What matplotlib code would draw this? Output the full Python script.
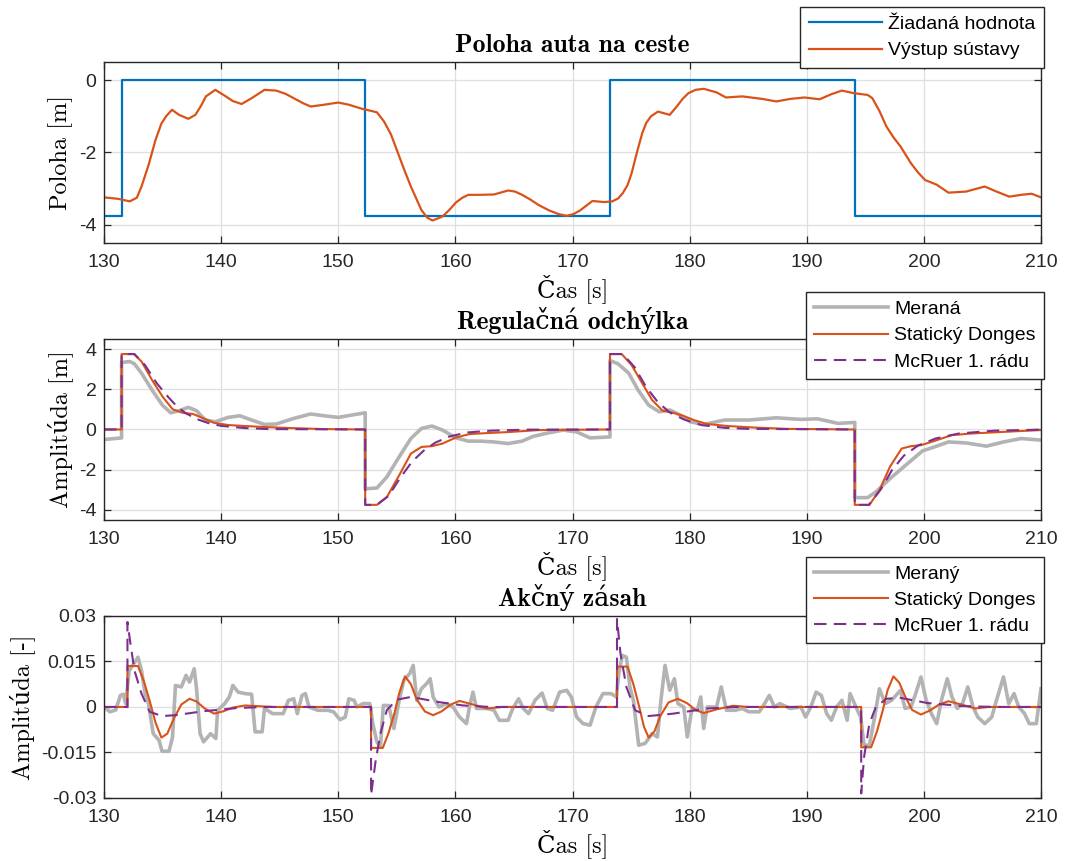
import matplotlib
matplotlib.use("Agg")
import matplotlib.pyplot as plt

plt.rcParams["axes.unicode_minus"] = False
plt.rcParams["font.family"] = ["Liberation Sans", "DejaVu Sans"]

# --- data ------------------------------------------------------------------
# panel 1: car position
ref_t = [130, 131.5, 152.3, 173.2, 194.1, 210]
ref_v = [-3.75, 0, -3.75, 0, -3.75, -3.75]

pos_t = [130, 131.2, 132.2, 132.8, 133.2, 133.8, 134.4, 134.9, 135.3, 135.8, 136.4, 137.2, 137.8,
         138.3, 138.7, 139.5, 140.4, 141.0, 141.75, 142.6, 143.7, 144.7, 145.5, 146.2, 147.0,
         147.65, 148.8, 150.0, 150.9, 152.1, 152.8, 153.3, 153.9, 154.5, 155.0, 155.6, 156.2,
         157.1, 157.6, 158.05, 158.9, 159.5, 160.05, 160.6, 161.1, 162.1, 163.3, 164.5, 165.1,
         165.7, 166.4, 167.1, 168.0, 168.8, 169.5, 170.1, 170.65, 171.7, 172.7, 173.4, 173.9,
         174.3, 174.7, 175.05, 175.5, 175.95, 176.3, 176.7, 177.3, 178.3, 178.9, 179.4, 179.9,
         180.5, 181.2, 182.3, 183.1, 184.5, 186.2, 187.4, 188.6, 189.8, 191.1, 192.1, 193.0,
         194.0, 195.2, 195.6, 196.2, 196.8, 197.4, 198.0, 198.9, 199.5, 200.1, 201.1, 202.1,
         203.6, 205.2, 206.2, 207.3, 208.3, 209.2, 210]
pos_v = [-3.24, -3.28, -3.35, -3.25, -2.94, -2.35, -1.65, -1.2, -1.0, -0.82, -0.96, -1.07, -0.96,
         -0.7, -0.45, -0.27, -0.45, -0.58, -0.66, -0.5, -0.27, -0.29, -0.38, -0.5, -0.64,
         -0.73, -0.68, -0.62, -0.68, -0.8, -0.85, -0.89, -1.14, -1.5, -1.93, -2.45, -2.94,
         -3.59, -3.8, -3.88, -3.77, -3.58, -3.38, -3.25, -3.17, -3.17, -3.16, -3.05, -3.08,
         -3.17, -3.3, -3.45, -3.6, -3.7, -3.75, -3.7, -3.6, -3.34, -3.37, -3.35, -3.27,
         -3.12, -2.9, -2.57, -2.0, -1.47, -1.18, -1.0, -0.87, -0.96, -0.73, -0.52, -0.36,
         -0.27, -0.24, -0.34, -0.48, -0.45, -0.52, -0.59, -0.52, -0.48, -0.53, -0.39, -0.29,
         -0.36, -0.41, -0.5, -0.85, -1.28, -1.58, -1.83, -2.3, -2.55, -2.76, -2.89, -3.11,
         -3.08, -2.94, -3.08, -3.22, -3.17, -3.14, -3.24]

# panel 2: control error
err_meas_t = [130, 131.5, 131.5, 132.2, 132.6, 133.2, 134.1, 135.0, 135.7, 136.4, 137.2, 137.9,
              138.65, 139.5, 140.6, 141.6, 142.6, 143.7, 144.7, 146.2, 147.65, 148.8, 150.0,
              151.2, 152.3, 152.3, 153.3, 154.15, 155.2, 156.2, 157.1, 158.0, 158.9, 160.05,
              161.1, 162.1, 163.3, 164.5, 165.7, 166.6, 167.7, 169.2, 170.35, 171.5, 173.2,
              173.2, 173.9, 174.8, 175.6, 176.5, 177.4, 178.3, 179.2, 180.06, 181.2, 183.0,
              185.1, 187.4, 189.5, 190.9, 192.7, 194.1, 194.1, 195.2, 195.9, 197.1, 198.6,
              199.9, 200.9, 202.1, 203.6, 205.35, 206.8, 208.3, 210]
err_meas_v = [-0.5, -0.42, 3.33, 3.38, 3.26, 2.8, 1.96, 1.2, 0.83, 0.93, 1.1, 0.93,
              0.47, 0.38, 0.6, 0.68, 0.47, 0.25, 0.27, 0.55, 0.77, 0.68, 0.6,
              0.72, 0.83, -2.95, -2.91, -2.36, -1.36, -0.45, 0.05, 0.17, -0.03, -0.42,
              -0.58, -0.58, -0.62, -0.7, -0.58, -0.35, -0.2, -0.03, -0.12, -0.42, -0.37,
              3.43, 3.26, 2.8, 1.96, 1.21, 0.88, 0.97, 0.72, 0.38, 0.25, 0.47,
              0.47, 0.58, 0.5, 0.53, 0.3, 0.35, -3.39, -3.39, -3.11, -2.45, -1.7,
              -1.06, -0.87, -0.62, -0.67, -0.83, -0.62, -0.45, -0.53]

err_don_t = [130, 131.5, 131.5, 132.55, 133.2, 134.1, 135.0, 135.85, 136.7, 137.6, 138.5, 139.4,
             140.6, 142.05, 143.8, 145.9, 148.8, 152.3, 152.3, 153.3, 154.15, 155.2, 156.2,
             157.1, 158.0, 158.9, 160.05, 161.2, 162.7, 164.5, 167.1, 173.2, 173.2, 174.2,
             175.05, 175.95, 176.8, 177.7, 178.6, 179.5, 180.35, 181.5, 183.3, 185.35, 188.3,
             194.1, 194.1, 195.35, 196.2, 197.1, 198.1, 198.9, 199.75, 200.9, 202.4, 204.1,
             206.8, 210]
err_don_v = [0, 0, 3.75, 3.75, 3.38, 2.46, 1.63, 1.01, 0.83, 0.77, 0.55, 0.33,
             0.22, 0.17, 0.12, 0.07, 0.02, 0, -3.75, -3.75, -3.36, -2.28, -1.2,
             -0.87, -0.83, -0.7, -0.4, -0.23, -0.18, -0.13, -0.03, 0, 3.75, 3.75,
             3.2, 2.3, 1.46, 0.93, 0.83, 0.67, 0.47, 0.27, 0.17, 0.1, 0.03,
             0, -3.75, -3.75, -3.03, -1.86, -0.95, -0.83, -0.78, -0.57, -0.28, -0.2,
             -0.12, -0.03]

err_mcr_t = [130, 131.5, 131.5, 132.6, 133.5, 134.5, 135.5, 136.3, 137.0, 138.0, 139.0, 140.0,
             142.0, 144.0, 152.3, 152.3, 153.3, 154.3, 155.3, 156.3, 157.3, 158.3, 159.5,
             161.0, 163.0, 166.0, 173.2, 173.2, 174.3, 175.3, 176.3, 177.3, 178.3, 179.5,
             181.0, 183.0, 185.0, 194.1, 194.1, 195.3, 196.3, 197.3, 198.3, 199.5, 201.0,
             203.0, 206.0, 210]
err_mcr_v = [0, 0, 3.75, 3.75, 3.2, 2.3, 1.6, 1.1, 0.8, 0.5, 0.3, 0.18,
             0.07, 0.02, 0, -3.75, -3.75, -3.3, -2.4, -1.6, -1.05, -0.65, -0.35,
             -0.15, -0.06, -0.01, 0, 3.75, 3.75, 3.1, 2.1, 1.35, 0.85, 0.5,
             0.22, 0.08, 0.03, 0, -3.75, -3.75, -3.0, -2.0, -1.3, -0.8, -0.45,
             -0.2, -0.06, -0.01]

# panel 3: control action
u_meas_t = [130, 130.5, 131.0, 131.4, 131.65, 131.85, 132.15, 132.45, 132.9, 133.2, 133.5, 133.8,
            134.2, 134.7, 134.95, 135.55, 135.85, 136.1, 136.6, 137.0, 137.3, 137.7, 137.9,
            138.2, 138.5, 139.1, 139.55, 139.7, 140.3, 140.7, 141.0, 141.45, 142.05, 142.6,
            142.9, 143.5, 143.7, 144.4, 145.3, 145.75, 146.2, 146.5, 146.9, 147.2, 147.5,
            148.25, 149.1, 149.6, 150.15, 150.6, 150.9, 151.35, 151.6, 152.1, 152.7, 152.95,
            153.3, 153.6, 153.85, 154.3, 154.75, 155.2, 155.6, 156.1, 156.4, 156.7, 157.1,
            157.55, 157.85, 158.1, 158.6, 159.2, 159.8, 160.35, 160.95, 161.2, 161.5, 161.8,
            162.7, 163.3, 163.75, 164.5, 164.9, 165.4, 165.8, 166.25, 166.8, 167.4, 167.85,
            168.3, 168.9, 169.5, 169.9, 170.35, 170.9, 171.5, 172.0, 172.6, 173.3, 173.75,
            173.95, 174.25, 174.6, 174.9, 175.2, 175.65, 176.2, 176.8, 177.25, 177.55, 177.9,
            178.3, 178.7, 179.0, 179.5, 179.8, 180.2, 180.65, 180.95, 181.2, 181.5, 182.3,
            182.7, 183.15, 183.9, 184.5, 185.05, 185.95, 186.4, 186.8, 187.25, 187.7, 188.6,
            189.5, 189.9, 190.35, 190.8, 191.25, 191.7, 192.1, 192.55, 193.0, 193.45, 193.7,
            194.2, 194.6, 194.9, 195.35, 195.8, 196.2, 196.7, 197.25, 198.0, 198.4, 198.9,
            199.3, 199.75, 200.2, 200.65, 201.1, 201.5, 202.0, 202.4, 202.85, 203.3, 203.75,
            204.2, 204.6, 205.2, 205.8, 206.2, 206.8, 207.25, 207.7, 208.1, 208.6, 209.0,
            209.6, 210]
u_meas_v = [0, -0.0016, -0.001, 0.0038, 0.0042, 0.0011, 0.012, 0.0137, 0.0164, 0.012, 0.0044, 0.001,
            -0.0088, -0.011, -0.0146, -0.0146, -0.0099, 0.0071, 0.0066, 0.0104, 0.0082, 0.0126, 0.006,
            -0.0088, -0.0115, -0.0088, -0.0104, -0.0011, 0.0011, 0.0033, 0.0071, 0.0049, 0.0044, 0.0042,
            -0.0082, -0.0082, -0.0005, -0.0022, -0.0022, 0.0022, 0.0027, -0.0022, 0.0038, 0.0044, 0,
            -0.0011, -0.0011, -0.0016, -0.0042, -0.0033, 0.0027, 0.0022, 0, 0.0011, 0.0011, -0.0055,
            -0.0115, -0.013, 0.0005, 0.0005, -0.0071, 0.0022, 0.0088, 0.011, 0.0137, 0.0022, 0.006,
            0.0077, 0.0093, 0.0033, 0, 0.0011, 0, -0.0033, -0.0055, 0, 0.0049, -0.0005,
            -0.0005, -0.0011, -0.0044, -0.0044, -0.0005, 0.0027, -0.0005, -0.0022, 0.0022, 0.0046, -0.0005,
            -0.0011, 0.0049, 0.0055, 0.0033, -0.0033, -0.0055, -0.006, 0, 0.0044, 0.0044, 0.0033,
            0.011, 0.017, 0.0164, 0.0066, 0.0022, -0.0126, -0.012, -0.0088, -0.0099, 0.0022, 0.0137,
            0.0055, 0.0093, 0.0011, 0, -0.0099, -0.0005, -0.0011, 0.0033, -0.0071, 0, 0,
            0.0066, -0.0011, -0.0011, -0.0005, -0.0016, -0.0016, 0.0011, 0.0038, 0, 0.0011, -0.0005,
            0, -0.0033, 0, 0.0049, 0.0038, -0.0022, -0.0044, 0, 0.0022, -0.0044, 0.0044,
            0, -0.0033, -0.0126, -0.0126, -0.0033, 0.006, 0.0011, 0.0022, 0.0055, -0.0005, 0,
            0.0044, 0.0099, 0.0022, -0.0022, -0.0055, 0.0022, 0.0093, 0.0033, -0.0005, 0.0011, 0.0066,
            0, -0.0033, -0.0055, -0.0033, 0.0022, 0.0099, 0.0011, 0.0044, 0, -0.0022, -0.0055,
            -0.0055, 0.006]

u_don_t = [130, 132.0, 132.0, 132.9, 133.4, 133.9, 134.4, 134.9, 135.4, 136.0, 136.6, 137.3,
           137.9, 138.6, 139.4, 140.2, 141.0, 142.05, 143.0, 144.5, 152.8, 152.8, 153.8, 154.3,
           154.8, 155.2, 155.7, 156.2, 156.7, 157.4, 158.1, 158.8, 159.6, 160.35, 161.5,
           162.7, 164.0, 173.8, 173.8, 174.7, 175.2, 175.7, 176.1, 176.5, 177.0, 177.5, 178.2,
           179.0, 179.8, 180.5, 181.2, 182.3, 183.7, 185.0, 194.65, 194.65, 195.5, 196.0,
           196.5, 196.9, 197.4, 197.9, 198.4, 199.0, 199.75, 200.5, 201.3, 202.1, 203.2,
           204.4, 205.5, 210]
u_don_v = [0, 0, 0.0135, 0.0135, 0.0085, 0.002, -0.0052, -0.0101, -0.0088, -0.0035, 0.0008, 0.0027,
           0.0018, -0.0005, -0.0022, -0.0014, -0.0002, 0.0005, 0.0003, 0, 0, -0.0135, -0.0135, -0.0085,
           -0.002, 0.0045, 0.0101, 0.0075, 0.0025, -0.0015, -0.0027, -0.0015, 0.0008, 0.002, 0.0008,
           -0.0005, 0, 0, 0.0133, 0.0133, 0.0075, 0.0, -0.0065, -0.0101, -0.008, -0.003, 0.0015,
           0.0027, 0.0012, -0.001, -0.002, -0.0008, 0.0004, 0, 0, -0.0133, -0.0133, -0.008,
           -0.001, 0.0055, 0.0101, 0.008, 0.0035, -0.001, -0.0025, -0.0012, 0.0008, 0.0019, 0.0008,
           -0.0005, 0, 0]

u_mcr_t = [130, 132.0, 132.0, 132.3, 132.6, 133.2, 133.9, 134.96, 136.1, 138.5, 141.5, 144.0,
           152.8, 152.8, 153.2, 153.6, 154.15, 155.0, 156.2, 158.6, 160.65, 163.0, 173.8, 173.8,
           174.1, 174.6, 175.35, 176.5, 178.6, 181.5, 184.0, 194.65, 194.65, 194.9, 195.35,
           195.9, 196.8, 198.0, 200.3, 203.3, 206.0, 210]
u_mcr_v = [0, 0, 0.028, 0.0197, 0.012, 0.0044, -0.0016, -0.003, -0.0027, -0.0014, -0.0003, 0,
           0, -0.029, -0.0175, -0.0088, -0.001, 0.0024, 0.0033, 0.0016, 0.0005, 0, 0, 0.029,
           0.0175, 0.0066, -0.0011, -0.003, -0.0022, -0.0005, 0, 0, -0.0285, -0.0164, -0.0055,
           0, 0.0027, 0.003, 0.0013, 0.0003, 0, 0]

xticks = [130, 140, 150, 160, 170, 180, 190, 200, 210]
u_ticks = [-0.03, -0.015, 0, 0.015, 0.03]
u_ticklabels = ["-0.03", "-0.015", "0", "0.015", "0.03"]

# --- style (MATLAB-ish) -----------------------------------------------------
BLUE, ORANGE, GRAY, PURPLE = "#0072BD", "#D95319", "#B3B3B3", "#7E2F8E"
EDGE = "#262626"
SERIF = ["cmr10", "DejaVu Serif"]
SERIF_B = ["cmb10", "DejaVu Serif"]


def style(ax, title, ylabel):
    ax.set_xlim(130, 210); ax.set_xticks(xticks)
    ax.grid(True, color="#dfdfdf", linewidth=0.9)
    ax.set_axisbelow(True)
    ax.tick_params(direction="in", top=True, right=True, length=5, labelsize=14,
                   colors=EDGE, width=0.9)
    ax.tick_params(axis="x", pad=8)
    ax.tick_params(axis="y", pad=5.5)
    for s in ax.spines.values():
        s.set_color(EDGE); s.set_linewidth(1.0)
    ax.set_title(title, family=SERIF_B, fontsize=18.5, pad=7)
    ax.set_xlabel("Čas [s]", family=SERIF, fontsize=17.5, labelpad=2)
    ax.set_ylabel(ylabel, family=SERIF, fontsize=17.5, labelpad=4)


def legend(ax, y):
    lg = ax.legend(loc="upper right", bbox_to_anchor=(1.003, y), fontsize=14, fancybox=False,
                   framealpha=1, edgecolor=EDGE, handlelength=3.8, borderpad=0.42,
                   labelspacing=0.45, handletextpad=0.3, borderaxespad=0)
    lg.get_frame().set_linewidth(1.0)


fig = plt.figure(figsize=(10.68, 8.61), dpi=100)
L, W, H = 0.0974, 0.8773, 0.2102
ax1 = fig.add_axes([L, 0.7178, W, H])
ax2 = fig.add_axes([L, 0.3961, W, H])
ax3 = fig.add_axes([L, 0.0732, W, 0.2114])

ax1.step(ref_t, ref_v, where="post", color=BLUE, lw=1.6, label="Žiadaná hodnota")
ax1.plot(pos_t, pos_v, color=ORANGE, lw=1.6, label="Výstup sústavy")
ax1.set_ylim(-4.5, 0.5); ax1.set_yticks([-4, -2, 0])
style(ax1, "Poloha auta na ceste", "Poloha [m]")
legend(ax1, 1.302)

ax2.plot(err_meas_t, err_meas_v, color=GRAY, lw=2.6, label="Meraná")
ax2.plot(err_don_t, err_don_v, color=ORANGE, lw=1.5, label="Statický Donges")
ax2.plot(err_mcr_t, err_mcr_v, color=PURPLE, lw=1.5, dashes=(6, 3.5), label="McRuer 1. rádu")
ax2.set_ylim(-4.5, 4.5); ax2.set_yticks([-4, -2, 0, 2, 4])
style(ax2, "Regulačná odchýlka", "Amplitúda [m]")
legend(ax2, 1.258)

ax3.plot(u_meas_t, u_meas_v, color=GRAY, lw=2.6, label="Meraný")
ax3.plot(u_don_t, u_don_v, color=ORANGE, lw=1.5, label="Statický Donges")
ax3.plot(u_mcr_t, u_mcr_v, color=PURPLE, lw=1.5, dashes=(6, 3.5), label="McRuer 1. rádu")
ax3.set_ylim(-0.03, 0.03); ax3.set_yticks(u_ticks); ax3.set_yticklabels(u_ticklabels)
style(ax3, "Akčný zásah", "Amplitúda [-]")
legend(ax3, 1.325)

fig.savefig("out.png", dpi=100)
